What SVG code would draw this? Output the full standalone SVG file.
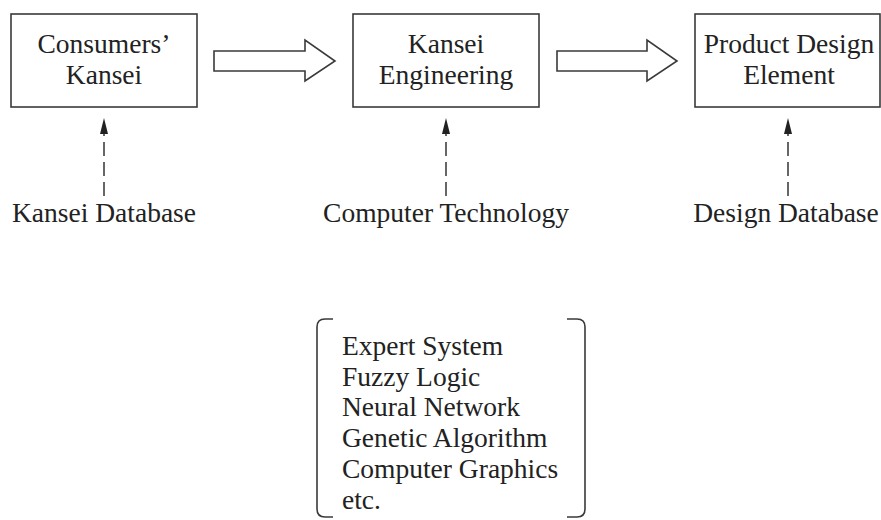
<svg xmlns="http://www.w3.org/2000/svg" width="881" height="520" viewBox="0 0 881 520">
  <defs>
    <style>
      .box { fill: #fff; stroke: #3a3a3a; stroke-width: 1.6; }
      .blk { fill: #fff; stroke: #3a3a3a; stroke-width: 1.6; stroke-linejoin: miter; }
      .dash { stroke: #666; stroke-width: 2; stroke-dasharray: 14 6; fill: none; }
      .brk { fill: none; stroke: #3a3a3a; stroke-width: 1.6; }
      text { font-family: "Liberation Serif", "Times New Roman", serif; font-size: 27.5px; fill: #222; }
      .c { text-anchor: middle; }
    </style>
  </defs>
  <rect width="881" height="520" fill="#fff"/>

  <g id="node-consumers-kansei">
    <rect class="box" x="11" y="14" width="186" height="93"/>
    <text class="c" x="104" y="53">Consumers’</text>
    <text class="c" x="104" y="84">Kansei</text>
  </g>
  <g id="node-kansei-engineering">
    <rect class="box" x="353" y="14" width="186" height="93"/>
    <text class="c" x="446" y="53">Kansei</text>
    <text class="c" x="446" y="84">Engineering</text>
  </g>
  <g id="node-product-design">
    <rect class="box" x="695" y="14" width="185" height="93"/>
    <text class="c" x="789" y="53">Product Design</text>
    <text class="c" x="789" y="84">Element</text>
  </g>

  <g id="label-kansei-db"><text class="c" x="104" y="222">Kansei Database</text></g>
  <g id="label-computer-tech"><text class="c" x="446" y="222">Computer Technology</text></g>
  <g id="label-design-db"><text class="c" x="786" y="222">Design Database</text></g>

  <g id="methods">
    <path class="brk" d="M333,319 L325,319 Q317,319 317,327 L317,509 Q317,517 325,517 L333,517"/>
    <path class="brk" d="M567,319 L577,319 Q585,319 585,327 L585,509 Q585,517 577,517 L567,517"/>
    <text x="342" y="355">Expert System</text>
    <text x="342" y="385.7">Fuzzy Logic</text>
    <text x="342" y="416.4">Neural Network</text>
    <text x="342" y="447.1">Genetic Algorithm</text>
    <text x="342" y="477.8">Computer Graphics</text>
    <text x="342" y="508.5">etc.</text>
  </g>

  <g id="connectors">
    <path class="blk" d="M214,51 L305,51 L305,40 L335,61 L305,81 L305,71 L214,71 Z"/>
    <path class="blk" d="M557,51 L647,51 L647,40 L677,61 L647,81 L647,71 L557,71 Z"/>
    <line class="dash" x1="104" y1="196" x2="104" y2="134"/>
    <path d="M100,134 L104,118 L108,134 Z" fill="#222"/>
    <line class="dash" x1="446" y1="196" x2="446" y2="134"/>
    <path d="M442,134 L446,118 L450,134 Z" fill="#222"/>
    <line class="dash" x1="788" y1="196" x2="788" y2="134"/>
    <path d="M784,134 L788,118 L792,134 Z" fill="#222"/>
  </g>
</svg>
